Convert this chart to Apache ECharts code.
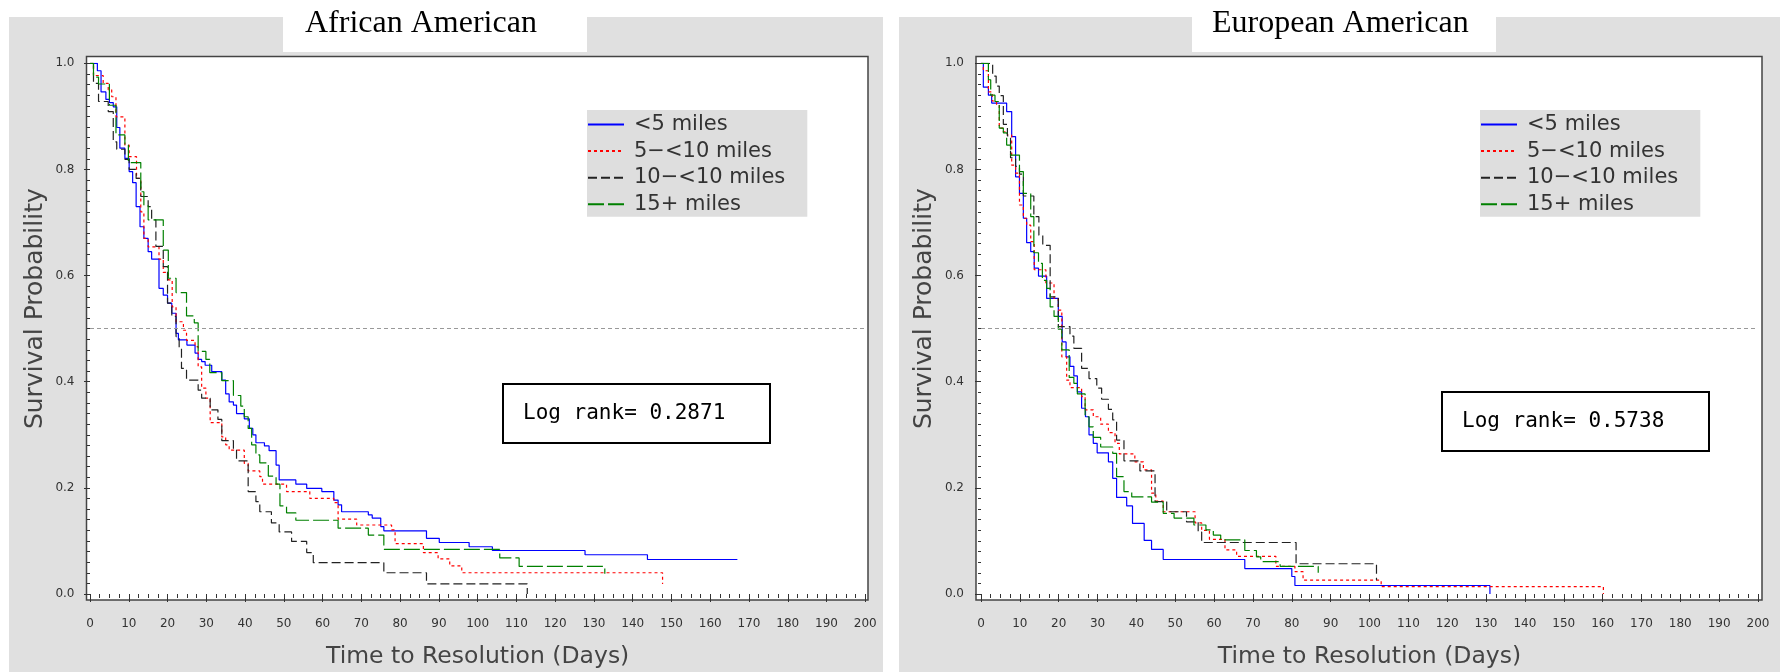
<!DOCTYPE html>
<html>
<head>
<meta charset="utf-8">
<title>Time to Resolution</title>
<script src="https://cdn.jsdelivr.net/npm/echarts@6/dist/echarts.min.js"></script>
<style>
  html, body { margin: 0; padding: 0; background: #fff; }
  #chart { width: 1780px; height: 672px; }
</style>
</head>
<body>
<div id="chart"></div>
<script>
const groups = ['<5 miles', '5−<10 miles', '10−<10 miles', '15+ miles']

// African American, [day, survival]
const aaUnder5 = [[0, 1], [1.9, 0.986], [2.85, 0.946], [4.1, 0.932], [5.0, 0.926], [6.0, 0.918], [6.9, 0.879], [7.7, 0.84], [9.0, 0.821], [10.1, 0.796], [11.0, 0.775], [11.9, 0.73], [12.9, 0.692], [13.9, 0.67], [15.0, 0.645], [15.9, 0.631], [17.8, 0.576], [18.9, 0.563], [20.0, 0.548], [21.1, 0.529], [22.2, 0.491], [22.8, 0.479], [25.0, 0.469], [27.1, 0.454], [27.9, 0.442], [28.8, 0.438], [29.7, 0.431], [31.4, 0.419], [34.0, 0.403], [35.0, 0.377], [35.9, 0.362], [37.0, 0.356], [37.8, 0.34], [39.8, 0.33], [41.1, 0.312], [42.0, 0.30], [42.8, 0.285], [45.0, 0.279], [46.2, 0.27], [48.0, 0.243], [48.8, 0.215], [53.1, 0.207], [55.9, 0.199], [59.8, 0.193], [62.9, 0.177], [64.0, 0.168], [64.9, 0.155], [71.8, 0.149], [72.8, 0.143], [75.0, 0.127], [75.8, 0.119], [86.8, 0.105], [90.1, 0.097], [97.8, 0.089], [103.8, 0.082], [127.7, 0.074], [143.8, 0.065], [167, 0.065]]
const aa5to10 = [[0, 1], [0.9, 0.977], [3.4, 0.962], [4.7, 0.95], [5.6, 0.937], [6.7, 0.899], [9.0, 0.846], [10.1, 0.824], [12.0, 0.783], [13.1, 0.72], [13.9, 0.67], [15.0, 0.654], [17.8, 0.631], [18.9, 0.606], [20.2, 0.592], [21.2, 0.541], [22.2, 0.513], [24.1, 0.497], [24.9, 0.478], [27.1, 0.466], [27.9, 0.428], [28.8, 0.388], [29.9, 0.369], [31.0, 0.323], [34.0, 0.296], [35.0, 0.281], [35.9, 0.271], [39.8, 0.246], [40.8, 0.232], [43.8, 0.221], [44.5, 0.207], [50.7, 0.193], [56.7, 0.18], [62.9, 0.172], [64.0, 0.141], [68.8, 0.13], [77.8, 0.121], [78.7, 0.095], [86.0, 0.078], [89.8, 0.066], [92.8, 0.053], [95.9, 0.040], [147.7, 0.040], [147.7, 0.019]]
const aa10to10 = [[0, 1], [0.9, 0.962], [2.2, 0.928], [4.7, 0.909], [6.0, 0.852], [6.9, 0.838], [9.0, 0.819], [10.1, 0.80], [11.9, 0.783], [13.1, 0.749], [15.0, 0.73], [15.9, 0.705], [17.0, 0.655], [18.9, 0.617], [20.0, 0.548], [21.1, 0.523], [22.2, 0.485], [23.0, 0.463], [23.6, 0.425], [24.9, 0.403], [27.9, 0.384], [28.8, 0.369], [31.0, 0.347], [33.0, 0.329], [34.0, 0.289], [37.0, 0.271], [37.8, 0.251], [40.8, 0.193], [42.8, 0.174], [43.8, 0.155], [46.8, 0.134], [48.8, 0.117], [52.0, 0.099], [55.9, 0.078], [57.6, 0.059], [75.8, 0.04], [86.8, 0.019], [112.8, 0.019], [112.8, 0]]
const aa15plus = [[0, 1], [0.9, 0.974], [2.2, 0.961], [5.0, 0.921], [6.7, 0.865], [9.0, 0.846], [9.9, 0.813], [13.1, 0.758], [13.9, 0.733], [15.0, 0.705], [18.9, 0.648], [20.2, 0.595], [22.2, 0.568], [24.9, 0.524], [26.9, 0.511], [27.9, 0.457], [29.9, 0.442], [30.9, 0.417], [34.0, 0.402], [37.0, 0.374], [38.9, 0.354], [39.8, 0.334], [40.8, 0.312], [41.7, 0.281], [42.8, 0.262], [43.8, 0.247], [46.0, 0.222], [48.0, 0.207], [49.0, 0.166], [50.7, 0.153], [53.1, 0.139], [64.0, 0.124], [71.8, 0.111], [75.8, 0.084], [105.7, 0.068], [110.7, 0.052], [132.8, 0.052], [132.8, 0.038]]

// European American, [day, survival]
const eaUnder5 = [[0, 1], [0.6, 0.955], [1.9, 0.94], [2.75, 0.925], [6.6, 0.909], [7.9, 0.862], [8.9, 0.786], [9.9, 0.755], [10.9, 0.708], [11.75, 0.662], [12.8, 0.645], [13.7, 0.614], [14.8, 0.599], [16.9, 0.557], [19.9, 0.523], [20.9, 0.475], [21.9, 0.447], [22.9, 0.429], [23.9, 0.411], [24.8, 0.381], [25.9, 0.35], [26.9, 0.334], [27.8, 0.30], [28.9, 0.284], [29.9, 0.266], [32.8, 0.249], [33.9, 0.218], [34.9, 0.182], [37.5, 0.166], [39.0, 0.133], [42.0, 0.101], [43.9, 0.084], [46.9, 0.065], [67.9, 0.048], [80.0, 0.033], [80.8, 0.016], [131, 0.016], [131, 0]]
const ea5to10 = [[0, 1], [0.6, 0.986], [1.9, 0.946], [2.9, 0.929], [4.0, 0.921], [4.7, 0.878], [5.75, 0.871], [6.8, 0.865], [7.9, 0.808], [8.9, 0.793], [9.9, 0.733], [10.9, 0.708], [11.75, 0.695], [12.8, 0.664], [13.7, 0.611], [16.7, 0.586], [18.8, 0.557], [19.9, 0.535], [20.8, 0.447], [22.05, 0.403], [22.9, 0.389], [25.9, 0.372], [26.8, 0.347], [28.9, 0.334], [30.8, 0.32], [32.8, 0.304], [34.5, 0.284], [35.6, 0.264], [39.6, 0.249], [41.8, 0.234], [43.9, 0.19], [45.0, 0.175], [46.9, 0.155], [55.1, 0.134], [56.8, 0.12], [58.8, 0.103], [62.8, 0.083], [65.8, 0.071], [75.9, 0.052], [80.8, 0.042], [82.9, 0.026], [103, 0.014], [160.2, 0.014], [160.2, 0]]
const ea10to10 = [[0, 1], [3.0, 0.976], [3.9, 0.957], [4.7, 0.939], [5.75, 0.885], [6.8, 0.863], [7.6, 0.822], [8.9, 0.806], [9.9, 0.791], [10.9, 0.75], [13.6, 0.711], [14.9, 0.676], [15.9, 0.657], [17.8, 0.56], [19.9, 0.504], [22.9, 0.486], [23.9, 0.463], [25.9, 0.425], [27.8, 0.406], [29.8, 0.388], [31.05, 0.367], [32.8, 0.348], [33.9, 0.328], [34.9, 0.29], [36.8, 0.251], [40.9, 0.232], [44.8, 0.174], [47.8, 0.155], [52.9, 0.136], [55.9, 0.117], [56.8, 0.097], [81.1, 0.057], [101.8, 0.057], [101.8, 0.026]]
const ea15plus = [[0, 1], [1.9, 0.969], [2.5, 0.94], [3.6, 0.928], [4.7, 0.878], [5.75, 0.869], [6.6, 0.846], [7.6, 0.827], [9.9, 0.796], [10.9, 0.755], [12.8, 0.711], [13.6, 0.643], [14.8, 0.623], [15.8, 0.591], [16.9, 0.576], [17.8, 0.541], [18.8, 0.523], [19.9, 0.499], [20.8, 0.46], [22.7, 0.408], [23.9, 0.397], [24.8, 0.377], [26.8, 0.334], [27.8, 0.315], [28.9, 0.295], [30.8, 0.277], [33.9, 0.265], [34.9, 0.221], [36.8, 0.193], [38.8, 0.183], [43.9, 0.173], [46.9, 0.152], [49.7, 0.143], [54.8, 0.13], [57.9, 0.121], [59.8, 0.111], [61.7, 0.102], [67.9, 0.082], [70.9, 0.07], [72.0, 0.061], [77.0, 0.052], [86.8, 0.052], [86.8, 0.04]]

const logRanks = ['Log rank= 0.2871', 'Log rank= 0.5738']
const panelTitles = ['African American', 'European American']

const lineColors = ['#0000ff', '#ff0000', '#222222', '#008000']
const lineTypes = ['solid', [3, 3], [9, 4], [16, 4]]
const sans = 'DejaVu Sans'

// layout of each panel (frame = outer box, plot = data area)
const panels = [
  {
    frame: { left: 86.5, top: 56.5, width: 781.5, height: 543.5 },
    plot: { left: 90, top: 63.3, width: 775.3, height: 530.7 },
    yOffset: 3.5, xOffset: 6,
    titleLeft: 305, legendLeft: 587, boxLeft: 503, boxTop: 384,
    data: [aaUnder5, aa5to10, aa10to10, aa15plus]
  },
  {
    frame: { left: 976, top: 56.5, width: 786, height: 543.5 },
    plot: { left: 981, top: 63.3, width: 777, height: 530.7 },
    yOffset: 5, xOffset: 6,
    titleLeft: 1212, legendLeft: 1480, boxLeft: 1442, boxTop: 392,
    data: [eaUnder5, ea5to10, ea10to10, ea15plus]
  }
]

const grid = []
const xAxis = []
const yAxis = []
const series = []
const legend = []
const title = []

panels.forEach(function (p, i) {
  // white frame behind the data area
  grid.push(Object.assign({ show: true, backgroundColor: '#fff', borderColor: '#444', borderWidth: 1.5, containLabel: false, outerBoundsMode: 'none' }, p.frame))
  xAxis.push({ gridIndex: 2 * i, type: 'value', show: false, min: 0, max: 1 })
  yAxis.push({ gridIndex: 2 * i, type: 'value', show: false, min: 0, max: 1 })

  grid.push(Object.assign({ show: false, containLabel: false, outerBoundsMode: 'none' }, p.plot))
  xAxis.push({
    gridIndex: 2 * i + 1,
    type: 'value',
    min: 0,
    max: 200,
    interval: 10,
    offset: p.xOffset,
    axisLine: { show: false },
    axisTick: { length: 8, lineStyle: { color: '#333' } },
    minorTick: { show: true, splitNumber: 4, length: 4, lineStyle: { color: '#333' } },
    splitLine: { show: false },
    axisLabel: { margin: 18, fontSize: 12, color: '#333', fontFamily: sans },
    name: 'Time to Resolution (Days)',
    nameLocation: 'middle',
    nameGap: 45,
    nameTextStyle: { fontSize: 23.5, color: '#444', fontFamily: sans }
  })
  yAxis.push({
    gridIndex: 2 * i + 1,
    type: 'value',
    min: 0,
    max: 1,
    interval: 0.2,
    offset: p.yOffset,
    axisLine: { show: false },
    axisTick: { length: 6, lineStyle: { color: '#333' } },
    minorTick: { show: true, splitNumber: 10, length: 3, lineStyle: { color: '#333' } },
    splitLine: { show: false },
    axisLabel: { margin: 12, fontSize: 12, color: '#333', fontFamily: sans, formatter: function (v) { return v.toFixed(1) } },
    name: 'Survival Probability',
    nameLocation: 'middle',
    nameGap: 39,
    nameTextStyle: { fontSize: 25, color: '#444', fontFamily: sans, padding: [0, 0, 0, 40] }
  })

  p.data.forEach(function (d, k) {
    const s = {
      type: 'line',
      name: groups[k],
      xAxisIndex: 2 * i + 1,
      yAxisIndex: 2 * i + 1,
      data: d,
      step: 'end',
      symbol: 'none',
      silent: true,
      lineStyle: { color: lineColors[k], width: 1.2, type: lineTypes[k] },
      itemStyle: { color: lineColors[k] }
    }
    if (k === 0) {
      // median line
      s.markLine = {
        silent: true,
        symbol: 'none',
        label: { show: false },
        lineStyle: { color: '#999', type: [4, 3], width: 1 },
        data: [{ yAxis: 0.5 }]
      }
    }
    series.push(s)
  })

  legend.push({
    left: p.legendLeft,
    top: 110,
    orient: 'vertical',
    backgroundColor: '#dedede',
    padding: [4, 22, 2, 0],
    itemWidth: 36,
    itemHeight: 14,
    itemGap: 5.6,
    selectedMode: false,
    data: groups,
    itemStyle: { opacity: 0 },
    textStyle: { fontFamily: sans, fontSize: 21, color: '#333', padding: [10, 0, 0, 5] }
  })

  title.push({
    text: panelTitles[i],
    left: p.titleLeft,
    top: 8,
    padding: 0,
    textStyle: { fontFamily: 'Liberation Serif', fontSize: 32, fontWeight: 'normal', color: '#000' }
  })
  title.push({
    text: logRanks[i],
    left: p.boxLeft,
    top: p.boxTop,
    borderColor: '#000',
    borderWidth: 2,
    padding: [19, 45, 19, 20],
    textStyle: { fontFamily: 'DejaVu Sans Mono', fontSize: 21, fontWeight: 'normal', color: '#000' }
  })
})

const chart = echarts.init(document.getElementById('chart'))
chart.setOption({
  animation: false,
  backgroundColor: '#fff',
  graphic: [
    { type: 'rect', z: -10, silent: true, shape: { x: 9, y: 17, width: 874, height: 655 }, style: { fill: '#e0e0e0' } },
    { type: 'rect', z: -10, silent: true, shape: { x: 899, y: 17, width: 881, height: 655 }, style: { fill: '#e0e0e0' } },
    { type: 'rect', z: -9, silent: true, shape: { x: 283, y: 0, width: 304, height: 52 }, style: { fill: '#fff' } },
    { type: 'rect', z: -9, silent: true, shape: { x: 1192, y: 0, width: 304, height: 52 }, style: { fill: '#fff' } }
  ],
  title: title,
  legend: legend,
  grid: grid,
  xAxis: xAxis,
  yAxis: yAxis,
  series: series
})
</script>
</body>
</html>
